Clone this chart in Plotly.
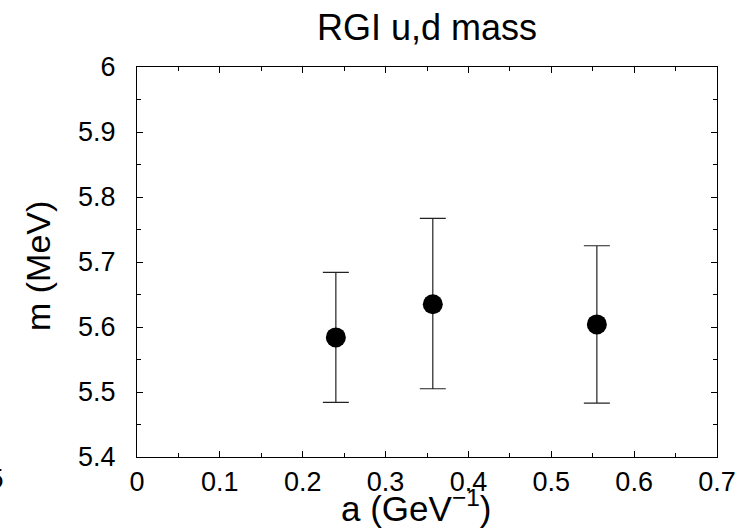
import plotly.graph_objects as go

a_vals = [0.24, 0.357, 0.555]
m_vals = [5.584, 5.635, 5.604]
err_plus = [0.100, 0.132, 0.121]
err_minus = [0.100, 0.130, 0.121]

x_ticks = [0, 0.1, 0.2, 0.3, 0.4, 0.5, 0.6, 0.7]
x_ticklabels = ["0", "0.1", "0.2", "0.3", "0.4", "0.5", "0.6", "0.7"]
y_ticks = [5.4, 5.5, 5.6, 5.7, 5.8, 5.9, 6.0]
y_ticklabels = ["5.4", "5.5", "5.6", "5.7", "5.8", "5.9", "6"]

FONT = "Liberation Sans, Arial, Helvetica, sans-serif"

# plot area in pixels (for placing free text only)
L, R, T, B = 137, 717, 67, 457
PW, PH = R - L, B - T

fig = go.Figure()
fig.add_trace(go.Scatter(
    x=a_vals, y=m_vals, mode="markers",
    marker=dict(color="black", size=20, symbol="circle"),
    error_y=dict(type="data", symmetric=False, array=err_plus, arrayminus=err_minus,
                 color="#222222", thickness=1.2, width=13),
    showlegend=False,
))

axis_common = dict(
    showline=True, linecolor="black", linewidth=1.3, mirror="allticks",
    ticks="inside", ticklen=6, tickwidth=1, tickcolor="black",
    showgrid=False, zeroline=False, automargin=False,
    tickfont=dict(family=FONT, size=27, color="black"),
)

fig.update_xaxes(
    range=[0, 0.7], tickvals=x_ticks, ticktext=x_ticklabels,
    minor=dict(dtick=0.05, ticks="inside", ticklen=4, tickcolor="black", showgrid=False),
    **axis_common,
)
fig.update_yaxes(
    range=[5.4, 6.0], tickvals=y_ticks, ticktext=y_ticklabels,
    ticklabelstandoff=15,
    minor=dict(dtick=0.05, ticks="inside", ticklen=4, tickcolor="black", showgrid=False),
    **axis_common,
)

fig.update_layout(
    width=741, height=528,
    margin=dict(l=L, r=741 - R, t=T, b=528 - B, autoexpand=False),
    paper_bgcolor="white", plot_bgcolor="white",
    title=dict(text="RGI u,d mass", x=(L + R) / 2 / 741, xanchor="center",
               y=1 - 27 / 528, yanchor="middle",
               font=dict(family=FONT, size=36, color="black")),
)

# axis titles
fig.add_annotation(text="a (GeV<sup>−1</sup>)", xref="paper", yref="paper",
                   x=(416 - L) / PW, y=-(529 - B) / PH,
                   xanchor="center", yanchor="bottom", showarrow=False, borderpad=0,
                   font=dict(family=FONT, size=35, color="black"))
fig.add_annotation(text="m (MeV)", xref="paper", yref="paper", textangle=-90,
                   x=(38 - L) / PW, y=(B - 266) / PH,
                   xanchor="center", yanchor="middle", showarrow=False,
                   font=dict(family=FONT, size=34, color="black"))

# clipped label fragment at left edge
fig.add_annotation(text="0.5", xref="paper", yref="paper",
                   x=(6 - L) / PW, y=-(479 - B) / PH,
                   xanchor="right", yanchor="middle", showarrow=False,
                   font=dict(family=FONT, size=27, color="black"))

fig.write_html("out.html")
